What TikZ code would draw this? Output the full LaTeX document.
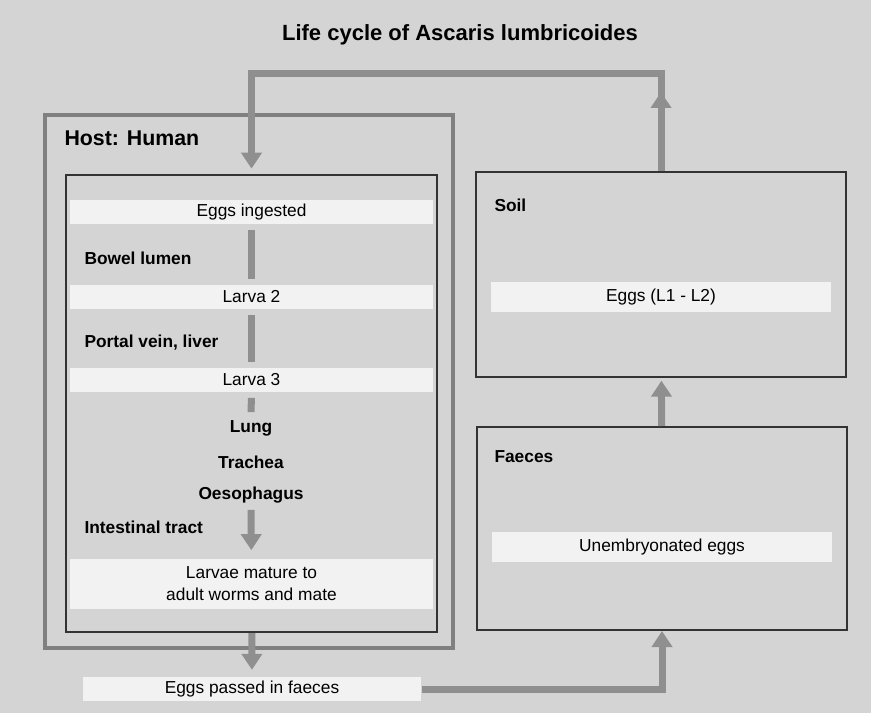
\documentclass[tikz,border=0pt]{standalone}
\usepackage{fontspec}
\setmainfont{Liberation Sans}
\usetikzlibrary{arrows.meta}

\definecolor{scanbg}{gray}{0.83}
\definecolor{bandw}{gray}{0.95}
\definecolor{flowc}{gray}{0.56}
\definecolor{hostc}{gray}{0.5}
\definecolor{boxc}{gray}{0.2}

\newcommand\txtfont{\fontsize{13}{16.5}\selectfont}
\newcommand\lblfont{\fontsize{13}{16.5}\selectfont\bfseries}

\tikzset{every picture/.style={line width=0.75pt},
  flow/.style={draw=flowc,line width=5.25pt},
  flowarr/.style={flow,-{Triangle[width=15pt,length=12pt]}},
  band/.style={fill=bandw,inner sep=0.75pt,minimum height=18pt,align=center,font=\txtfont},
  stage/.style={inner sep=0.75pt,font=\lblfont},
  site/.style={anchor=west,inner sep=0.75pt,font=\lblfont},
  hostbox/.style={draw=hostc,line width=3pt,inner sep=0pt},
  placebox/.style={draw=boxc,line width=1.5pt,inner sep=0pt,minimum width=277.5pt}
}

\begin{document}
\begin{tikzpicture}[x=0.75pt,y=0.75pt,yscale=-1,xscale=1]
%Shape: Background
\fill[scanbg] (0,0) rectangle (871,713);
\useasboundingbox (0,0) rectangle (871,713);

% Text Node
\node (title) at (460,35) [inner sep=0.75pt,font=\fontsize{16.5}{20}\selectfont\bfseries] {Life cycle of Ascaris lumbricoides};

%Shape: Host box
\node (host) at (249,381.5) [hostbox,minimum width=306pt,minimum height=399.75pt] {};
%Shape: Inner box
\node (inner) at (251.5,403.5) [draw=boxc,line width=1.5pt,inner sep=0pt,minimum width=278.25pt,minimum height=342.75pt] {};
%Shape: Soil box
\node (soil) at (661,274.5) [placebox,minimum height=153.75pt] {};
%Shape: Faeces box
\node (faeces) at (662,528.5) [placebox,minimum height=152.25pt] {};

% Text Node
\node (hostlbl) at (63,138) [anchor=west,inner sep=0.75pt,font=\fontsize{16}{19}\selectfont\bfseries] {Host: Human};
% Text Node
\node (ingest) at (251.5,212) [band,minimum width=272pt] {Eggs ingested};
% Text Node
\node (bowel) at (83,258) [site] {Bowel lumen};
% Text Node
\node (larvatwo) at (251.5,297) [band,minimum width=272pt] {Larva 2};
% Text Node
\node (portal) at (83,343) [site] {Portal vein, liver};
% Text Node
\node (larvathree) at (251.5,380) [band,minimum width=272pt] {Larva 3};
% Text Node
\node (lung) at (251,428) [stage] {Lung};
% Text Node
\node (trachea) at (251,462) [stage] {Trachea};
% Text Node
\node (oeso) at (251,495) [stage] {Oesophagus};
% Text Node
\node (intest) at (83,527) [site] {Intestinal tract};
% Text Node
\node (mature) at (251.5,584) [band,minimum width=272pt,minimum height=38pt] {Larvae mature to\\adult worms and mate};
% Text Node
\node (passed) at (252,689) [band,minimum width=253.5pt] {Eggs passed in faeces};

% Text Node
\node (soillbl) at (493,205) [site] {Soil};
% Text Node
\node (eggsoil) at (661,297) [band,minimum width=255pt,minimum height=22pt] {Eggs (L1 - L2)};
% Text Node
\node (faeceslbl) at (493,457) [site] {Faeces};
% Text Node
\node (unemb) at (662,547) [band,minimum width=255pt,minimum height=22pt] {Unembryonated eggs};

%Arrows inside host
\draw[flow,shorten <=4pt,shorten >=4pt] (ingest) -- (larvatwo);
\draw[flow,shorten <=4pt,shorten >=4pt] (larvatwo) -- (larvathree);
\draw[flow,shorten <=4pt,shorten >=5pt] (larvathree) -- (lung);
\draw[flowarr,shorten <=4pt,shorten >=6pt] (oeso) -- (mature);
\draw[flowarr,shorten >=5pt] (inner) -- (passed);

%Arrows outside host
\coordinate (ytop) at (0,74);
\draw[flowarr] (passed.east) -| (faeces.south);
\draw[flowarr,shorten >=2pt] (faeces) -- (soil);
\draw[flowarr,shorten >=4pt] (soil.north) |- (ytop -| inner.north) -- (inner.north);
\coordinate (tipfrom) at (661,112);
\coordinate (tipto) at (661,92);
\draw[flowarr] (tipfrom) -- (tipto);

\end{tikzpicture}
\end{document}
